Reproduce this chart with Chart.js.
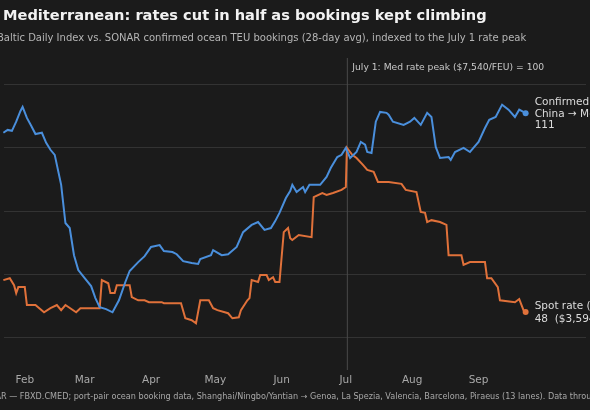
<!DOCTYPE html>
<html><head><meta charset="utf-8">
<script src="https://cdn.jsdelivr.net/npm/chart.js@4"></script>
<style>
html,body{margin:0;padding:0;background:#1b1b1b;overflow:hidden;width:590px;height:410px;font-family:"DejaVu Sans",sans-serif;}
#wrap{position:absolute;left:0;top:0;width:590px;height:410px;}
.t{position:absolute;white-space:nowrap;}
.pre{position:absolute;right:100%;top:0;}
</style></head><body>
<div id="wrap"><canvas id="c" width="590" height="410"></canvas></div>
<div class="t" style="left:3px;top:6px;font-size:14.6px;font-weight:bold;color:#f2f2f2">Mediterranean: rates cut in half as bookings kept climbing</div>
<div class="t" style="left:-3px;top:32px;font-size:10px;color:#b5b5b5"><span class="pre">Freightos </span>Baltic Daily Index vs. SONAR confirmed ocean TEU bookings (28-day avg), indexed to the July 1 rate peak</div>
<div class="t" style="left:1px;top:391px;font-size:8.1px;color:#a8a8a8"><span class="pre">Source: FreightWaves SONA</span>R — FBXD.CMED; port-pair ocean booking data, Shanghai/Ningbo/Yantian → Genoa, La Spezia, Valencia, Barcelona, Piraeus (13 lanes). Data through Sep 22.</div>
<script>
const monthTicks=[32,60,91,121,152,182,213,244];
const monthLabels=["Feb","Mar","Apr","May","Jun","Jul","Aug","Sep"];
const bookDays=[22,24,26,28,30,31,33,35,37,40,42,44,46,49,51,53,55,57,60,63,65,67,70,73,76,79,81,85,88,91,95,97,101,103,106,110,113,114,119,120,124,127,131,134,138,141,144,147,149,151,154,156,157,159,162,163,165,170,173,175,178,180,182,184,187,189,191,192,194,196,198,201,202,204,209,212,214,217,220,222,224,226,230,231,233,237,240,242,244,247,249,252,255,258,261,263,266];
const bookVals=[104.8,105.7,105.4,108.3,111.7,113.0,109.5,107.0,104.4,104.8,101.6,99.4,97.8,88.3,76.2,74.6,66.0,61.3,58.7,56.2,52.4,49.5,48.9,47.9,51.7,57.5,61.0,63.8,65.7,68.6,69.2,67.3,67.0,66.3,64.1,63.5,63.2,64.8,66.0,67.6,66.0,66.3,68.6,73.3,75.6,76.5,74.0,74.6,76.8,79.4,84.1,86.3,88.3,86.0,87.6,86.0,88.3,88.3,90.8,93.7,97.1,97.8,100,96.8,98.7,101.9,101.0,98.7,98.4,108.3,111.4,111.1,110.5,108.3,107.3,108.3,109.5,107.3,111.1,109.8,100.3,96.8,97.1,96.2,98.7,100,98.7,100.3,101.9,106.3,108.9,109.8,113.7,112.1,109.8,112.1,111];
const rateDays=[22,25,27,28,29,32,33,37,41,44,47,49,51,56,58,67,68,71,72,74,75,81,82,85,88,90,96,97,105,107,110,112,114,118,120,122,127,129,132,133,136,137,138,141,142,145,146,148,149,151,153,155,156,157,160,166,167,171,173,176,180,182,182.5,185,187,190,192,195,197,202,208,210,215,217,219,220,222,226,229,230,236,237,240,247,248,250,253,254,261,263,265,266];
const rateVals=[58.1,58.7,56.5,54.0,55.9,55.9,50.2,50.2,47.9,49.2,50.2,48.6,50.2,47.9,49.2,49.2,58.1,57.1,54.0,54.0,56.5,56.5,52.7,51.7,51.7,51.1,51.1,50.8,50.8,46.0,45.4,44.4,51.7,51.7,49.2,48.6,47.6,46.0,46.3,48.6,51.7,52.4,58.1,57.5,59.7,59.7,58.1,59.0,57.5,57.5,73.3,74.6,71.4,70.8,72.4,71.7,84.4,85.7,85.1,85.7,86.7,87.6,100,97.8,96.8,94.6,93.0,92.4,89.2,89.2,88.6,86.7,86.0,79.7,79.4,76.5,77.1,76.5,75.6,66.0,66.0,62.9,63.8,63.8,58.7,58.7,55.9,51.7,51.1,52.1,48.6,48];
const peakDay=182.7;
const BLUE="#4a8fdc", ORANGE="#e0713a";
const pts=(d,v)=>d.map((x,i)=>({x,y:v[i]}));
const lastR=n=>ctx=>ctx.dataIndex===n-1?3:0;

const overlay={id:'overlay',
 beforeDatasetsDraw(ch){const c=ch.ctx,x=ch.scales.x.getPixelForValue(peakDay);
  c.save();c.strokeStyle="#4a4a4a";c.lineWidth=1;c.beginPath();c.moveTo(x,58);c.lineTo(x,370);c.stroke();
  c.fillStyle="#c8c8c8";c.font="9.2px 'DejaVu Sans'";c.textBaseline="middle";
  c.fillText("July 1: Med rate peak ($7,540/FEU) = 100",x+5,68);c.restore();},
 afterDatasetsDraw(ch){const c=ch.ctx,xs=ch.scales.x,ys=ch.scales.y;
  c.save();c.font="10.5px 'DejaVu Sans'";c.textBaseline="middle";
  let bx=xs.getPixelForValue(bookDays[bookDays.length-1])+9,by=ys.getPixelForValue(bookVals[bookVals.length-1]);
  c.fillStyle="#dcdcdc";
  c.fillText("Confirmed bookings",bx,by-11);c.fillText("China → Med TEU",bx,by+1);c.fillText("111",bx,by+12);
  let rx=xs.getPixelForValue(rateDays[rateDays.length-1])+9,ry=ys.getPixelForValue(rateVals[rateVals.length-1]);
  c.fillText("Spot rate (FBX)",rx,ry-6);c.fillText("48  ($3,594/FEU)",rx,ry+7);
  c.restore();}
};

new Chart(document.getElementById('c'),{
 type:'line',
 data:{datasets:[
  {data:pts(bookDays,bookVals),borderColor:BLUE,backgroundColor:BLUE,borderWidth:2,pointRadius:lastR(bookDays.length),pointBorderWidth:0,tension:0},
  {data:pts(rateDays,rateVals),borderColor:ORANGE,backgroundColor:ORANGE,borderWidth:2,pointRadius:lastR(rateDays.length),pointBorderWidth:0,tension:0}
 ]},
 plugins:[overlay],
 options:{responsive:false,animation:false,clip:false,
  layout:{padding:{top:69,bottom:23,left:0,right:0}},
  plugins:{legend:{display:false},tooltip:{enabled:false}},
  scales:{
   x:{type:'linear',min:22.3,max:294.2,
    afterBuildTicks:s=>{s.ticks=monthTicks.map(v=>({value:v}));},
    ticks:{color:"#a8a8a8",font:{size:10.5,family:"DejaVu Sans"},padding:21,maxRotation:0,autoSkip:false,
     callback:v=>monthLabels[monthTicks.indexOf(v)]||""},
    grid:{display:false,drawTicks:false},border:{display:false},
    afterFit:s=>{s.height=34;s.paddingLeft=0;s.paddingRight=0;}},
   y:{min:35,max:125,
    afterBuildTicks:s=>{s.ticks=[40,60,80,100,120].map(v=>({value:v}));},
    ticks:{display:false},grid:{color:"#333333",drawTicks:false},border:{display:false},
    afterFit:s=>{s.width=0;}}
  }}
});
</script></body></html>
